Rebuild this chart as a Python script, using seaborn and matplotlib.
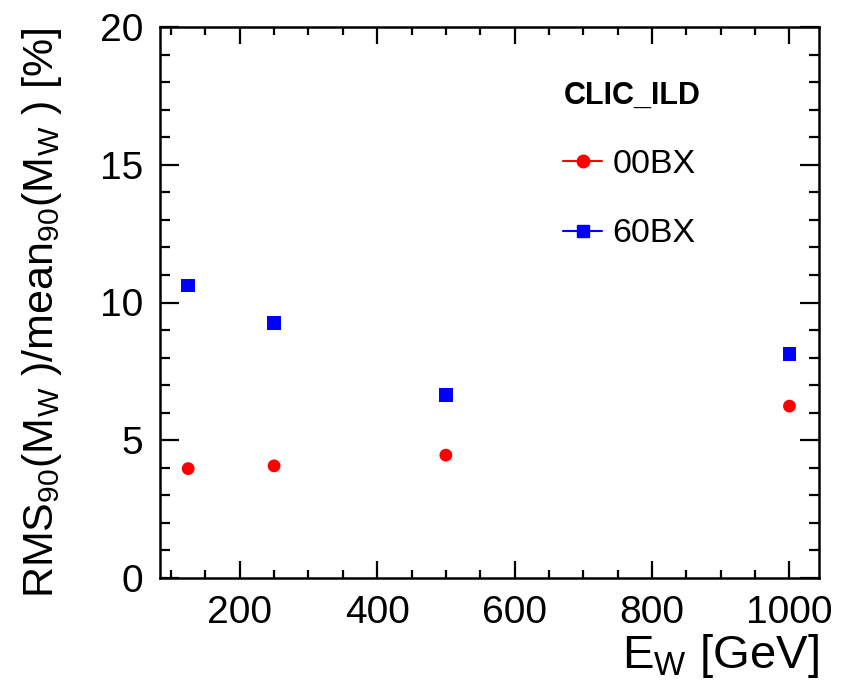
import numpy as np
import pandas as pd
import matplotlib
matplotlib.use("Agg")
import matplotlib.pyplot as plt
from matplotlib.lines import Line2D
from matplotlib.ticker import MultipleLocator
import seaborn as sns

# ---- data ----
energy = [125, 250, 500, 1000]                 # E_W [GeV]
res_00bx = [3.97, 4.07, 4.46, 6.24]            # RMS90/mean90 [%], 00BX
res_60bx = [10.62, 9.26, 6.64, 8.13]           # RMS90/mean90 [%], 60BX
series_names = ["00BX", "60BX"]
legend_title = "CLIC_ILD"
xlabel = r"E$_{\mathrm{W}}$ [GeV]"
ylabel = r"RMS$_{\mathrm{90}}$(M$_{\mathrm{W}}$ )/mean$_{\mathrm{90}}$(M$_{\mathrm{W}}$ ) [%]"

df = pd.DataFrame({
    "E": energy * 2,
    "res": res_00bx + res_60bx,
    "config": [series_names[0]] * len(energy) + [series_names[1]] * len(energy),
})

sns.set_style("ticks")
plt.rcParams["font.family"] = ["Liberation Sans", "DejaVu Sans"]
plt.rcParams["mathtext.fontset"] = "custom"
plt.rcParams["mathtext.rm"] = "Liberation Sans"
plt.rcParams["mathtext.it"] = "Liberation Sans:italic"
plt.rcParams["mathtext.bf"] = "Liberation Sans:bold"
plt.rcParams["text.color"] = "black"
plt.rcParams["axes.labelcolor"] = "black"
plt.rcParams["xtick.color"] = "black"
plt.rcParams["ytick.color"] = "black"

fig = plt.figure(figsize=(8.46, 6.85), dpi=100)
ax = fig.add_axes([160 / 846, 1 - 578 / 685, (819 - 160) / 846, (578 - 27) / 685])

colors = {"00BX": "#ff0000", "60BX": "#0000ff"}
markers = {"00BX": "o", "60BX": "s"}
sizes = {"00BX": 85, "60BX": 95}
for name in series_names:
    sub = df[df["config"] == name]
    sns.scatterplot(data=sub, x="E", y="res", color=colors[name], marker=markers[name],
                    s=sizes[name], edgecolor="none", legend=False, ax=ax, zorder=3)

ax.set_xlim(84, 1043)
ax.set_ylim(0, 20)
ax.xaxis.set_major_locator(MultipleLocator(200))
ax.xaxis.set_minor_locator(MultipleLocator(50))
ax.yaxis.set_major_locator(MultipleLocator(5))
ax.yaxis.set_minor_locator(MultipleLocator(1))

for s in ax.spines.values():
    s.set_visible(True)
    s.set_linewidth(1.8)
    s.set_color("black")

ax.tick_params(which="both", direction="in", top=True, right=True, width=1.6,
               color="black", labelcolor="black")
ax.tick_params(axis="x", which="major", length=12, pad=12, labelsize=28)
ax.tick_params(axis="x", which="minor", length=6)
ax.tick_params(axis="y", which="major", length=14, pad=12, labelsize=28)
ax.tick_params(axis="y", which="minor", length=7)

ax.set_xlabel(xlabel, fontsize=34, loc="right", color="black")
ax.set_ylabel(ylabel, fontsize=31, loc="top", color="black")
ax.xaxis.set_label_coords(1.0, -0.098)
ax.yaxis.set_label_coords(-0.145, 1.0)

handles = [Line2D([], [], color=colors[n], marker=markers[n], markersize=9, lw=1.5)
           for n in series_names]
leg = ax.legend(handles, series_names, title=legend_title, loc="upper left",
                bbox_to_anchor=(0.612, 0.903), frameon=False, borderpad=0, borderaxespad=0,
                fontsize=24.5, handlelength=1.15, handletextpad=0.3, labelspacing=1.12,
                title_fontproperties={"weight": "bold", "size": 22}, alignment="left")
leg._legend_box.sep = 28

fig.savefig("out.png", dpi=100)
